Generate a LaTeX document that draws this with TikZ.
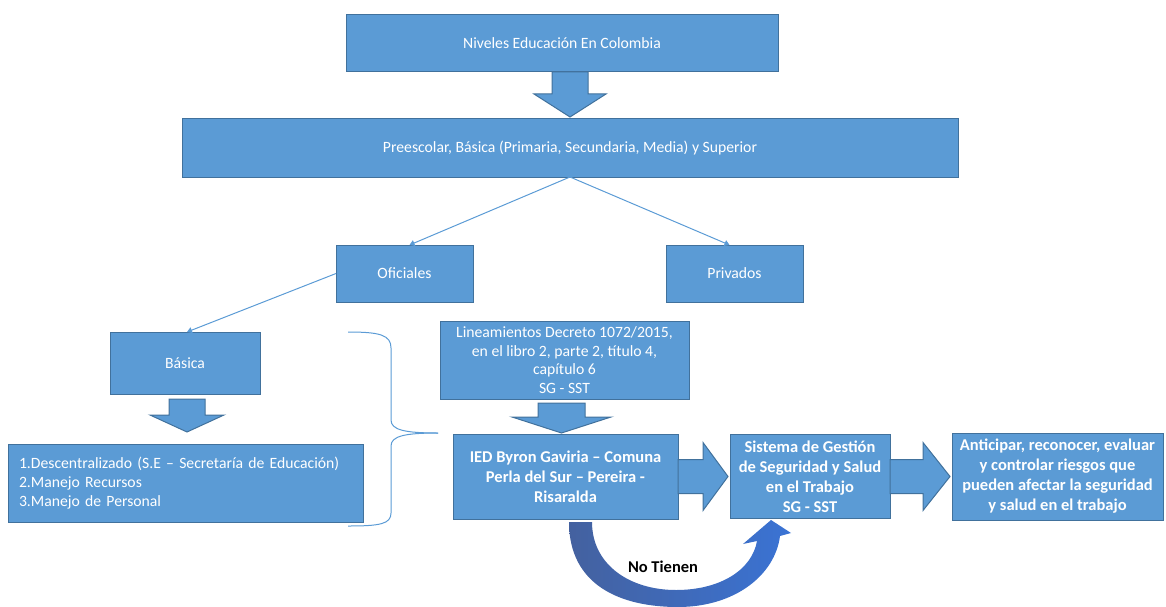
\documentclass[tikz,border=0pt]{standalone}
\usepackage{fontspec}
\setmainfont{Carlito}
\usetikzlibrary{arrows.meta, positioning, calc}
\definecolor{azul}{HTML}{5B9BD5}
\definecolor{bordeazul}{HTML}{41719C}
\definecolor{curvaizq}{HTML}{44619F}
\definecolor{curvader}{HTML}{3A73D4}

\begin{document}
\begin{tikzpicture}[
    x=1pt, y=-1pt,
    every node/.style={
        rectangle,
        draw=bordeazul,
        fill=azul,
        text=white,
        line width=1pt,
        inner sep=0pt,
        outer sep=0pt,
        align=center,
        font=\fontsize{15.7}{18.7}\selectfont
    },
    negrita/.style={font=\bfseries\fontsize{16.5}{20}\selectfont},
    flechabloque/.style={draw=bordeazul, fill=azul, line width=1pt},
    conector/.style={draw=azul, line width=1pt, -{Triangle[length=5pt,width=6pt]}},
    llave/.style={draw=azul, line width=1pt}
]
\useasboundingbox (0,0) rectangle (1166,607);

% Nodes
\node[minimum width=432pt, minimum height=57pt] (niveles) at (562,43.5) {Niveles Educación En Colombia};
\node[minimum width=776pt, minimum height=58pt] (preesc) at (570,148) {Preescolar, Básica (Primaria, Secundaria, Media) y Superior};
\node[minimum width=137pt, minimum height=57pt] (oficiales) at (404.5,273.5) {Oficiales};
\node[minimum width=137pt, minimum height=57pt, right=193pt of oficiales] (privados) {Privados};
\node[minimum width=150pt, minimum height=62pt] (basica) at (185,363) {Básica};
\node[text width=333pt, inner xsep=11pt, minimum height=78pt, align=left] (lista) at (185.5,483)
    {1.Descentralizado (S.E – Secretaría de Educación)\\2.Manejo Recursos\\3.Manejo de Personal};
\node[minimum width=249pt, minimum height=78pt] (lineam) at (564.5,360)
    {Lineamientos Decreto 1072/2015,\\en el libro 2, parte 2, título 4,\\capítulo 6\\SG - SST};
\node[negrita, minimum width=225pt, minimum height=85pt] (ied) at (565.5,476.5)
    {IED Byron Gaviria – Comuna\\Perla del Sur – Pereira -\\Risaralda};
\node[negrita, minimum width=160pt, minimum height=84pt, right=52pt of ied] (sgsst)
    {Sistema de Gestión\\de Seguridad y Salud\\en el Trabajo\\SG - SST};
\node[negrita, minimum width=211pt, minimum height=87pt, right=62pt of sgsst] (anticipar)
    {Anticipar, reconocer, evaluar\\y controlar riesgos que\\pueden afectar la seguridad\\y salud en el trabajo};

% Block arrows
\draw[flechabloque] (niveles.south -| preesc.north) ++(-18,0) -- ++(0,22) -- ++(-18,0)
    -- ++(36,23) -- ++(36,-23) -- ++(-18,0) -- ++(0,-22) -- cycle;
\draw[flechabloque] ($(basica.south)+(2,5)$) ++(-18,0) -- ++(0,16) -- ++(-19,0)
    -- ++(37,17) -- ++(37,-17) -- ++(-19,0) -- ++(0,-16) -- cycle;
\draw[flechabloque] ($(lineam.south)+(-3,4)$) ++(-23.5,0) -- ++(0,14) -- ++(-26,0)
    -- ++(49.5,16) -- ++(49.5,-16) -- ++(-26,0) -- ++(0,-14) -- cycle;
\draw[flechabloque] (ied.east) ++(0,-17) -- ++(25,0) -- ++(0,-17)
    -- ++(25,34) -- ++(-25,34) -- ++(0,-17) -- ++(-25,0) -- cycle;
\draw[flechabloque] (sgsst.east) ++(0,-17) -- ++(33,0) -- ++(0,-17)
    -- ++(27,34) -- ++(-27,34) -- ++(0,-17) -- ++(-33,0) -- cycle;

% Edges
\draw[conector] (preesc.south) -- ([xshift=5pt]oficiales.north);
\draw[conector] (preesc.south) -- ([xshift=-5pt]privados.north);
\draw[conector] (oficiales.west) -- ([xshift=2pt]basica.north);

% Brace
\draw[llave] (348,332) .. controls (380,332) and (391,335) .. (391,348) -- (391,420)
    .. controls (391,430) and (405,433) .. (438,433);
\draw[llave] (438,433) .. controls (405,433) and (391,436) .. (391,446) -- (391,513)
    .. controls (391,524) and (380,526) .. (348,526);

% Curved arrow
\shade[left color=curvaizq, right color=curvader]
    ($(ied.south)+(3.5,3)$) .. controls (569,585) and (620,607) .. (678,607)
    .. controls (735,607) and (775,575) .. (780,536) -- (791,533) -- (771,520)
    -- (743,544) -- (757,541) .. controls (752,570) and (720,590) .. (676,590)
    .. controls (630,590) and (592,565) .. (592,522) -- cycle;
\node[negrita, draw=none, fill=none, text=black] (notienen) at (663,567) {No Tienen};

\end{tikzpicture}
\end{document}
